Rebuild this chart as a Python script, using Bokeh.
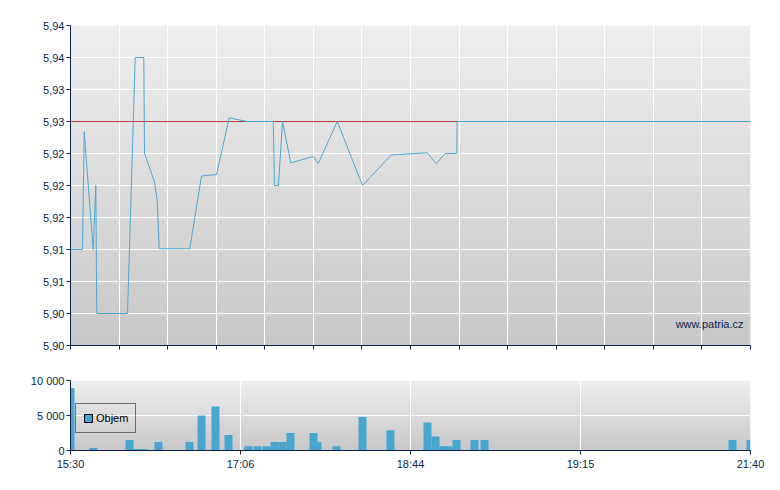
import numpy as np
from bokeh.plotting import figure
from bokeh.layouts import column
from bokeh.models import (Range1d, FixedTicker, CustomJSTickFormatter, Label,
                          Legend, LegendItem, LinearColorMapper, ColumnDataSource)
from bokeh.embed import file_html
from bokeh.resources import INLINE

# ---------------- data ----------------
# x positions are in time-axis units (0 = 15:30 ... 14 = 21:40, non-linear clock)
price_x = [0, 0.247, 0.282, 0.467, 0.521, 0.541, 1.174, 1.332, 1.509, 1.524, 1.729,
           1.785, 1.826, 2.456, 2.697, 3.006, 3.267, 3.638, 4.173, 4.200, 4.282,
           4.365, 4.536, 4.997, 5.100, 5.491, 6.012, 6.603, 7.344, 7.529, 7.715,
           7.953, 7.961, 14]
price_y = [5.9112, 5.9112, 5.9274, 5.9112, 5.9200, 5.9024, 5.9024, 5.9376, 5.9376,
           5.9244, 5.9205, 5.9179, 5.9113, 5.9113, 5.9213, 5.9215, 5.9293, 5.9288,
           5.9288, 5.9200, 5.9200, 5.9288, 5.9231, 5.9240, 5.9230, 5.9288, 5.9200,
           5.9242, 5.9245, 5.9230, 5.9244, 5.9244, 5.9288, 5.9288]
prev_close = 5.9288

vol_x = [0.0, 0.470, 1.215, 1.379, 1.503, 1.812, 2.450, 2.697, 2.985, 3.253, 3.665,
         3.850, 4.035, 4.200, 4.365, 4.529, 5.003, 5.085, 5.476, 6.012, 6.588,
         7.350, 7.515, 7.679, 7.782, 7.947, 8.318, 8.524, 13.629, 14.0]
vol_y = [8900, 350, 1500, 200, 200, 1200, 1200, 5000, 6300, 2200, 600,
         600, 600, 1200, 1200, 2500, 2500, 1200, 600, 4800, 2900,
         4000, 2000, 600, 600, 1500, 1500, 1500, 1500, 1500]

x_tick_pos = [0, 3.5, 7, 10.5, 14]
x_tick_labels = ["15:30", "17:06", "18:44", "19:15", "21:40"]
price_ticks = [5.898 + i * 0.0044 for i in range(11)]
vol_ticks = [0, 5000, 10000]

# ---------------- style ----------------
NAVY = "#0a1f4d"
LINE_BLUE = "#4ba8d4"
BAR_BLUE = "#46a6cf"
REF_RED = "#b83a3a"
FONT = "Liberation Sans"

def grey_palette(lo, hi, n=256):
    return ["#%02x%02x%02x" % ((int(round(lo + (hi - lo) * i / (n - 1))),) * 3) for i in range(n)]

pal = grey_palette(200, 238)
grad = np.arange(256, dtype=float).reshape(256, 1)
cmap = LinearColorMapper(palette=pal, low=0, high=255)

def style_axes(p):
    for ax in (p.xaxis[0], p.yaxis[0]):
        ax.axis_line_color = NAVY
        ax.axis_line_width = 1
        ax.major_tick_line_color = NAVY
        ax.major_tick_out = 4
        ax.major_tick_in = 0
        ax.minor_tick_line_color = None
        ax.major_label_text_font = FONT
        ax.major_label_text_font_size = "11px"
        ax.major_label_text_color = NAVY
    p.yaxis[0].major_label_standoff = 2
    p.xaxis[0].major_label_standoff = 3
    p.grid.grid_line_color = "white"
    p.grid.grid_line_width = 1
    p.outline_line_color = None
    p.background_fill_color = "white"
    p.border_fill_color = "white"

# ---------------- price chart ----------------
y0, y1 = price_ticks[0], price_ticks[-1]
p1 = figure(width=770, height=365, output_backend="svg", toolbar_location=None,
            title=None, x_range=Range1d(0, 14), y_range=Range1d(y0, y1),
            min_border_left=70, min_border_right=20, min_border_top=25, min_border_bottom=20)
p1.image(image=[grad], x=0, y=y0, dw=14, dh=y1 - y0, color_mapper=cmap, level="image")
style_axes(p1)
p1.xaxis.ticker = FixedTicker(ticks=list(range(15)))
p1.xgrid.ticker = FixedTicker(ticks=list(range(15)))
p1.xaxis.formatter = CustomJSTickFormatter(code="return '';")
p1.yaxis.ticker = FixedTicker(ticks=price_ticks)
p1.ygrid.ticker = FixedTicker(ticks=price_ticks)
p1.yaxis.formatter = CustomJSTickFormatter(code="return tick.toFixed(2).replace('.', ',');")
p1.hspan(y=[prev_close], line_color=REF_RED, line_width=1)
p1.line(price_x, price_y, line_color=LINE_BLUE, line_width=1)
p1.add_layout(Label(x=14, y=y0, x_offset=-7, y_offset=22, text="www.patria.cz",
                    text_align="right", text_baseline="middle", text_font=FONT,
                    text_font_size="11px", text_color=NAVY))

# ---------------- volume chart ----------------
p2 = figure(width=770, height=110, output_backend="svg", toolbar_location=None,
            title=None, x_range=Range1d(0, 14), y_range=Range1d(0, 10000),
            min_border_left=70, min_border_right=20, min_border_top=15, min_border_bottom=25)
p2.image(image=[grad], x=0, y=0, dw=14, dh=10000, color_mapper=cmap, level="image")
style_axes(p2)
p2.xaxis.ticker = FixedTicker(ticks=x_tick_pos)
p2.xgrid.ticker = FixedTicker(ticks=x_tick_pos)
p2.xaxis.formatter = CustomJSTickFormatter(
    args=dict(pos=x_tick_pos, labels=x_tick_labels),
    code="""
    let best = 0;
    for (let i = 0; i < pos.length; i++) {
        if (Math.abs(pos[i] - tick) < Math.abs(pos[best] - tick)) best = i;
    }
    return labels[best];
    """)
p2.yaxis.ticker = FixedTicker(ticks=vol_ticks)
p2.ygrid.ticker = FixedTicker(ticks=vol_ticks)
p2.yaxis.formatter = CustomJSTickFormatter(
    code="return tick.toFixed(0).replace(/\\B(?=(\\d{3})+(?!\\d))/g, ' ');")
p2.vbar(x=vol_x, top=vol_y, bottom=0, width=0.1647, fill_color=BAR_BLUE, line_color=None)
# legend proxy: one NaN bar (never drawn) with a black outline for the legend swatch
legend_proxy = p2.vbar(x="x", top="top", bottom=0, width=0.1647, fill_color=BAR_BLUE,
                       line_color="black", line_width=1,
                       source=ColumnDataSource(dict(x=[vol_x[0]], top=[float("nan")])))
legend = Legend(items=[LegendItem(label="Objem", renderers=[legend_proxy])],
                location=(5, 17), orientation="vertical", margin=0, padding=7,
                spacing=0, glyph_width=10, glyph_height=10, label_height=14,
                label_standoff=3, label_text_font=FONT, label_text_font_size="11px",
                label_text_color="black", border_line_color="black", border_line_width=1,
                background_fill_alpha=0)
p2.add_layout(legend, "center")

layout = column(p1, p2, spacing=0)
open("out.html", "w").write(file_html(layout, INLINE))
